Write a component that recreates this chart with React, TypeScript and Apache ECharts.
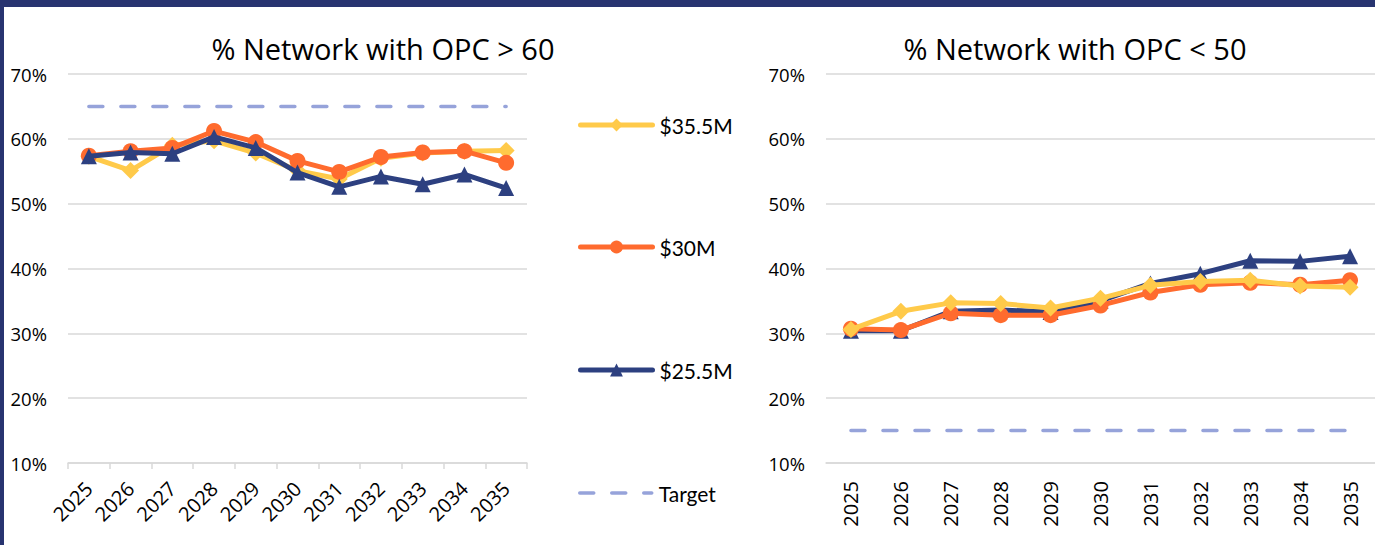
import React, { useEffect, useRef } from "react";
import * as echarts from "echarts";

const years = ["2025", "2026", "2027", "2028", "2029", "2030", "2031", "2032", "2033", "2034", "2035"];
const leftTitle = "% Network with OPC > 60";
const rightTitle = "% Network with OPC < 50";
const seriesNames = ["$35.5M", "$30M", "$25.5M", "Target"];

const left355 = [57.3, 55.1, 59.0, 59.7, 57.8, 55.1, 53.8, 57.0, 57.8, 58.1, 58.2];
const left30 = [57.4, 58.1, 58.6, 61.2, 59.5, 56.6, 54.9, 57.2, 57.9, 58.1, 56.3];
const left255 = [57.3, 57.9, 57.7, 60.3, 58.6, 54.8, 52.6, 54.2, 53.0, 54.5, 52.4];
const leftTarget = [65, 65, 65, 65, 65, 65, 65, 65, 65, 65, 65];

const right355 = [30.6, 33.4, 34.7, 34.6, 33.9, 35.4, 37.4, 38.0, 38.2, 37.3, 37.1];
const right30 = [30.7, 30.5, 33.1, 32.8, 32.8, 34.3, 36.3, 37.5, 37.8, 37.5, 38.2];
const right255 = [30.4, 30.4, 33.4, 33.6, 33.3, 35.0, 37.7, 39.2, 41.2, 41.1, 41.9];
const rightTarget = [15, 15, 15, 15, 15, 15, 15, 15, 15, 15, 15];

const C_YEL = "#FFCA4A";
const C_ORG = "#FF6B2E";
const C_NAV = "#2D4080";
const C_TGT = "#96A3DA";
const C_BORDER = "#283470";
const C_GRID = "#D9D9D9";

function lineSeries(name: string, data: number[], color: string, symbol: string, idx: number, z: number) {
  return {
    name,
    type: "line",
    xAxisIndex: idx,
    yAxisIndex: idx,
    data,
    symbol,
    symbolSize: symbol === "triangle" ? 16 : symbol === "diamond" ? 17 : 16,
    lineStyle: { color, width: 5, cap: "round", join: "round" },
    itemStyle: { color },
    z,
    emphasis: { disabled: true },
  };
}

function targetSeries(data: number[], idx: number) {
  return {
    name: "Target",
    type: "line",
    xAxisIndex: idx,
    yAxisIndex: idx,
    data,
    symbol: "none",
    lineStyle: { color: C_TGT, width: 3.5, type: [14, 18], cap: "round" },
    itemStyle: { color: C_TGT },
    z: 1,
    emphasis: { disabled: true },
  };
}

export default function App() {
  const ref = useRef<HTMLDivElement>(null);
  useEffect(() => {
    if (!ref.current) return;
    const chart = echarts.init(ref.current, undefined, { renderer: "svg" });
    const axisLabelY = { formatter: "{value}%", fontSize: 18.5, color: "#000", fontFamily: "Open Sans" };
    const legendBase = {
      orient: "vertical",
      left: 578,
      padding: 0,
      itemWidth: 72,
      itemHeight: 16,
      itemGap: 0,
      textStyle: { fontSize: 21, color: "#000", fontFamily: "Lato", padding: [0, 0, 0, 2] },
      lineStyle: { width: 5, cap: "round" },
      selectedMode: false,
    };
    chart.setOption({
      animation: false,
      backgroundColor: "#fff",
      textStyle: { fontFamily: "Open Sans" },
      graphic: [
        { type: "rect", shape: { x: 0, y: 0, width: 1375, height: 7 }, style: { fill: C_BORDER } },
        { type: "rect", shape: { x: 0, y: 0, width: 4, height: 545 }, style: { fill: C_BORDER } },
        {
          type: "text", x: 383, y: 48,
          style: { text: leftTitle, fontSize: 29, fill: "#000", fontFamily: "Open Sans", textAlign: "center", textVerticalAlign: "middle" },
        },
        {
          type: "text", x: 1075, y: 48,
          style: { text: rightTitle, fontSize: 29, fill: "#000", fontFamily: "Open Sans", textAlign: "center", textVerticalAlign: "middle" },
        },
      ],
      legend: [
        { ...legendBase, top: 114.5, data: [seriesNames[0]] },
        { ...legendBase, top: 236.5, data: [seriesNames[1]] },
        { ...legendBase, top: 359.5, data: [seriesNames[2]] },
        {
          ...legendBase, top: 482.5,
          lineStyle: { width: 3.5, cap: "round" },
          data: [{ name: seriesNames[3], itemStyle: { opacity: 0 } }],
        },
      ],
      grid: [
        { left: 68, right: 848, top: 74, bottom: 82 },
        { left: 826, right: -10, top: 74, bottom: 82 },
      ],
      xAxis: [
        {
          type: "category", gridIndex: 0, data: years, boundaryGap: true,
          axisLine: { lineStyle: { color: C_GRID, width: 1.5 } },
          axisTick: { show: true, length: 6, lineStyle: { color: C_GRID, width: 1.5 } },
          axisLabel: { rotate: 45, fontSize: 20, color: "#000", fontFamily: "Open Sans", margin: 22 },
        },
        {
          type: "category", gridIndex: 1, data: years, boundaryGap: true,
          axisLine: { lineStyle: { color: C_GRID, width: 1.5 } },
          axisTick: { show: false },
          axisLabel: { rotate: 90, fontSize: 20, color: "#000", fontFamily: "Open Sans", margin: 18 },
        },
      ],
      yAxis: [
        {
          type: "value", gridIndex: 0, min: 10, max: 70, interval: 10,
          axisLine: { show: false }, axisTick: { show: false },
          axisLabel: { ...axisLabelY, margin: 21 },
          splitLine: { lineStyle: { color: C_GRID, width: 1.5 } },
        },
        {
          type: "value", gridIndex: 1, min: 10, max: 70, interval: 10,
          axisLine: { show: false }, axisTick: { show: false },
          axisLabel: { ...axisLabelY, margin: 21 },
          splitLine: { lineStyle: { color: C_GRID, width: 1.5 } },
        },
      ],
      series: [
        lineSeries("$35.5M", left355, C_YEL, "diamond", 0, 2),
        lineSeries("$30M", left30, C_ORG, "circle", 0, 3),
        lineSeries("$25.5M", left255, C_NAV, "triangle", 0, 4),
        targetSeries(leftTarget, 0),
        lineSeries("$25.5M", right255, C_NAV, "triangle", 1, 2),
        lineSeries("$30M", right30, C_ORG, "circle", 1, 3),
        lineSeries("$35.5M", right355, C_YEL, "diamond", 1, 4),
        targetSeries(rightTarget, 1),
      ],
    });
    return () => chart.dispose();
  }, []);
  return (
    <div style={{ position: "fixed", left: 0, top: 0, width: 1375, height: 545, background: "#fff" }}>
      <div ref={ref} style={{ width: 1375, height: 545 }} />
    </div>
  );
}
